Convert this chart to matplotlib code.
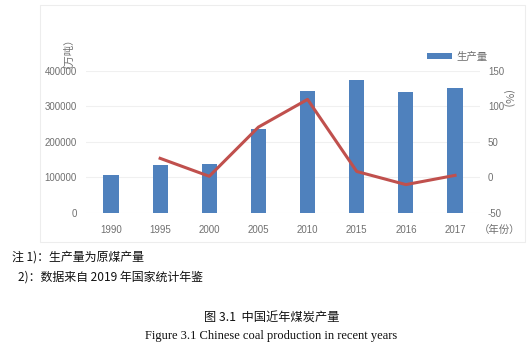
import matplotlib
matplotlib.use("Agg")
import matplotlib.pyplot as plt
from matplotlib.patches import Rectangle
import numpy as np

years = ["1990", "1995", "2000", "2005", "2010", "2015", "2016", "2017"]
production = [107988, 136073, 138418, 236515, 342845, 374654, 341060, 352356]
growth_years = ["1995", "2000", "2005", "2010", "2015", "2016", "2017"]
growth = [27, 1.7, 71, 110, 8.5, -10, 3]
left_ticks = [0, 100000, 200000, 300000, 400000]
right_ticks = [-50, 0, 50, 100, 150]

CJK = ["Noto Sans CJK SC", "DejaVu Sans"]
GREY = "#707070"

fig = plt.figure(figsize=(5.30, 3.51), dpi=100)
fig.patch.set_facecolor("white")

# chart frame
fig.patches.append(Rectangle((40/530, 1-242/351), 485/530, 237/351,
                             transform=fig.transFigure, fill=False,
                             edgecolor="#EDEDED", linewidth=0.8))

ax = fig.add_axes([86.4/530, 1-213/351, 393.2/530, 142/351])
x = np.arange(len(years))
bars = ax.bar(x, production, width=0.31, color="#4F81BD", label="生产量", zorder=3)
ax.set_ylim(0, 400000)
ax.set_xlim(-0.5, len(years)-0.5)
ax.set_yticks(left_ticks)
ax.set_yticklabels([str(v) for v in left_ticks], fontsize=7, color=GREY,
                   family="Liberation Sans")
ax.set_xticks(x)
ax.set_xticklabels(years, fontsize=7, color=GREY, family="Liberation Sans")
ax.tick_params(length=0, pad=9)
ax.tick_params(axis="y", pad=7)
ax.grid(axis="y", color="#F0F0F0", linewidth=0.8, zorder=0)
for s in ax.spines.values():
    s.set_visible(False)

ax2 = ax.twinx()
gx = [years.index(y) for y in growth_years]
ax2.plot(gx, growth, color="#C0504D", linewidth=2.2, zorder=4)
ax2.set_ylim(-50, 150)
ax2.set_yticks(right_ticks)
ax2.set_yticklabels([str(v) for v in right_ticks], fontsize=7, color=GREY,
                    family="Liberation Sans")
ax2.tick_params(length=0, pad=6)
for s in ax2.spines.values():
    s.set_visible(False)

# legend
ax.legend(handles=[bars], loc="lower left", bbox_to_anchor=(427/530, 1-62/351),
          bbox_transform=fig.transFigure, frameon=False,
          prop={"family": CJK, "size": 7.5}, labelcolor=GREY,
          handlelength=2.4, handleheight=0.55, handletextpad=0.4,
          borderpad=0, borderaxespad=0)

# axis titles
fig.text(63/530, 1-47/351, "（万吨）", rotation=90, ha="center", va="center",
         fontsize=7.5, color=GREY, family=CJK)
fig.text(507/530, 1-99/351, "(%)", rotation=270, ha="center", va="center",
         fontsize=8, color=GREY, family=CJK)
fig.text(500/530, 1-230/351, "（年份）", ha="center", va="center",
         fontsize=7.5, color=GREY, family=CJK)

# notes and captions
fig.text(12/530, 1-257/351, "注 1)：生产量为原煤产量", ha="left", va="center",
         fontsize=8.6, color="#111111", family=CJK)
fig.text(18/530, 1-277/351, "2)：数据来自 2019 年国家统计年鉴", ha="left", va="center",
         fontsize=8.6, color="#111111", family=CJK)
fig.text(272/530, 1-317/351, "图 3.1  中国近年煤炭产量", ha="center", va="center",
         fontsize=8.8, color="#111111", family=CJK)
fig.text(271/530, 1-336/351, "Figure 3.1 Chinese coal production in recent years",
         ha="center", va="center", fontsize=9, color="#111111",
         family="Liberation Serif")

fig.savefig("out.png", dpi=100, facecolor="white")
